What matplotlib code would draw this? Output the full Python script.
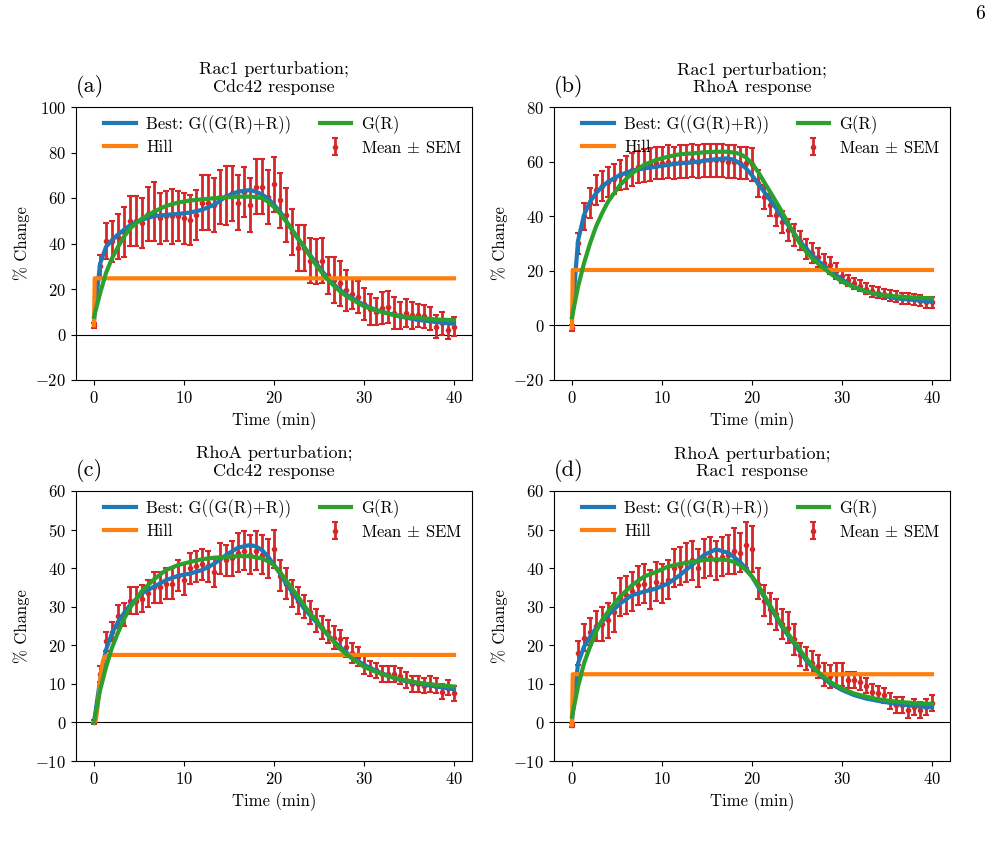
import numpy as np
import matplotlib
matplotlib.use("Agg")
import matplotlib.pyplot as plt

plt.rcParams['font.family'] = ['cmr10', 'DejaVu Serif']
plt.rcParams['mathtext.fontset'] = 'cm'
plt.rcParams['axes.formatter.use_mathtext'] = True
plt.rcParams['font.size'] = 12

# ---- time grids ----
t_data = np.linspace(0, 40, 61)
t_fit = [0, 0.67, 1.33, 2, 2.67, 3.33, 4, 5.33, 6.67, 8, 9.33, 10.67, 12, 13.33,
         14.67, 16, 17.33, 18, 18.67, 19.33, 20, 20.67, 21.33, 22, 22.67, 23.33,
         24, 24.67, 25.33, 26, 26.67, 27.33, 28, 28.67, 30, 31.33, 32.67, 34, 36,
         38, 40]

# ---- panel (a): Rac1 perturbation; Cdc42 response ----
mean_a = [4, 30, 41, 41, 43, 45, 50, 50, 49, 53, 54, 51, 52, 52, 52, 51, 50.5,
          52.5, 58, 58, 57, 60.5, 61, 62, 58, 62.5, 57, 65, 65, 60.5, 66, 59,
          52.5, 45, 38, 38, 32.5, 32, 32.5, 26, 24, 22.5, 19.5, 18, 16.5, 13.5,
          11, 10, 11.5, 12, 9.5, 8.5, 9.5, 8.5, 8.5, 8, 7, 3.5, 5, 2, 3.5]
sem_a = [1, 5, 8, 9, 10, 11, 11, 11, 11, 12, 13, 11, 11, 12, 11, 11, 11, 11, 12,
         12, 12, 12, 13, 12, 12, 11, 12, 12, 12, 12, 12, 12, 12, 10, 10, 10, 10,
         10, 10, 8, 10, 10, 9, 7, 7, 7, 7, 6, 7, 7, 7, 6, 6, 6, 5, 5, 5, 5, 5,
         4, 4]
best_a = [6, 31, 38.5, 41.5, 44, 46, 48, 50.5, 52, 52.6, 53, 53.6, 54.8, 57,
          60.6, 62.8, 63.5, 62.8, 61.5, 59.8, 57, 54, 50, 46, 42, 38.5, 35, 31.4,
          28, 24.8, 22, 19.6, 17.6, 16, 13, 10.8, 9.3, 7.9, 6.4, 5.5, 4.7]
gr_a = [7.8, 18, 27, 33.5, 38.5, 43, 46.6, 51, 54, 56.5, 58, 58.9, 59.4, 59.9,
        60.3, 60.6, 60.6, 60.4, 59.9, 58.4, 56, 53.2, 49.8, 46, 42.3, 38.5, 34.5,
        30.6, 27.2, 24, 21.4, 19, 17, 15.4, 12.4, 10.6, 9.2, 8, 7.3, 6.6, 6.3]
hill_t_a = [0, 0.08, 40]
hill_a = [4, 24.7, 24.7]

# ---- panel (b): Rac1 perturbation; RhoA response ----
mean_b = [-1, 30, 40, 45, 49.5, 51, 52.5, 53.5, 55, 56, 57, 58, 58.5, 59, 59.5,
          59.5, 60, 59.5, 60, 60, 60.5, 60, 60.5, 60.5, 60.5, 60.5, 60, 60, 59.5,
          59.5, 59, 52, 47, 44, 40.5, 38, 35, 33, 31, 28, 26.5, 25, 23, 22, 20,
          18, 16.5, 15.5, 14.5, 13.5, 12.5, 12, 11.5, 11, 10.5, 10, 10, 9.5, 9,
          8.5, 8.5]
sem_b = [1, 4, 5, 5.5, 5.5, 5.5, 5.5, 5.5, 5.5, 6, 6, 6, 6, 6, 6, 6, 6, 6, 6, 6,
         6, 6, 6, 6, 6, 6, 6, 6, 6, 6, 6, 5, 4.5, 4, 4, 4, 4, 4, 3.5, 3.5, 3.5,
         3.5, 3, 3, 3, 2.5, 2, 2, 2, 2, 2, 2, 2, 2, 2, 2, 2, 2, 2, 2, 2]
best_b = [3, 31, 40.4, 45.3, 48.4, 50.8, 52.6, 55.1, 56.7, 57.5, 58.1, 58.8,
          59.4, 59.7, 60.3, 60.9, 61.2, 60.6, 59.4, 57.5, 55, 52, 49, 46, 43,
          39.8, 36.8, 33.7, 30.7, 28.2, 25.8, 23.7, 21.8, 20.3, 16.7, 14.2, 12.4,
          11.2, 9.9, 9.3, 8.7]
gr_b = [3, 14.2, 22.7, 30, 36.2, 41, 45.3, 51.4, 55.7, 58.8, 60.6, 61.8, 62.7,
        63, 63.4, 63.6, 63.6, 63.3, 62.8, 61.5, 59.3, 56.3, 52.6, 49, 45.3, 41.6,
        37.4, 33.7, 30, 27, 24.6, 22.7, 20.9, 19.1, 16, 14, 12.4, 11.4, 10.6,
        10.2, 9.9]
hill_t_b = [0, 0.08, 40]
hill_b = [-1, 20.3, 20.3]

# ---- panel (c): RhoA perturbation; Cdc42 response ----
mean_c = [0, 12.5, 21, 23.5, 27.5, 28, 31.5, 31.5, 32, 33.5, 35, 35, 36, 36, 38,
          37, 40, 40.5, 41, 40.5, 39, 42.5, 42, 42.5, 44, 44.5, 43.5, 44.5, 43.5,
          42.5, 45, 38, 36, 33.5, 31.5, 30, 28.5, 26.5, 24.5, 23.5, 22, 21.5,
          19.5, 18, 17, 15, 14, 13.5, 12.5, 12.5, 12.5, 12, 11, 10, 10, 9.5, 10,
          9.5, 8, 9, 7.5]
sem_c = [0.5, 2, 2.5, 2.5, 3, 3, 3.5, 3.5, 3.5, 3.5, 4, 4, 4, 4, 4, 4, 4, 4, 4,
         4, 4, 4, 4, 4.5, 5, 5, 5, 5, 5, 5, 5, 4, 4, 3.5, 3.5, 3, 3, 3, 3, 3, 3,
         2.5, 2.5, 2.5, 2.5, 2.5, 2, 2, 2, 2, 2, 2, 2, 2, 2, 2, 2, 2, 2, 2, 2]
best_c = [0, 10.9, 18.8, 23.1, 26.1, 28.3, 30.4, 33.5, 35.2, 36.9, 38, 38.6,
          39.5, 41.1, 43.4, 45.3, 46, 45.6, 44.7, 43, 40.8, 38.6, 36, 33.9, 31.7,
          29.6, 27.8, 26.1, 24.4, 22.6, 21, 19.6, 18.2, 17, 14.9, 13.4, 12.1, 11,
          10.1, 9.3, 8.6]
gr_c = [0, 8.3, 14.3, 19.4, 23.3, 26.8, 29.7, 34.1, 37.1, 39.5, 40.8, 41.6, 42.3,
        42.7, 42.9, 43.1, 43.1, 42.8, 42.5, 41.8, 40.8, 39, 36.9, 34.7, 32.6,
        30.4, 28.3, 26.6, 24.4, 22.7, 20.8, 19.1, 17.8, 16.6, 14.4, 13.1, 12,
        11.2, 10.3, 9.7, 9.3]
hill_t_c = [0, 0.2, 0.4, 0.6, 0.8, 1.0, 1.2, 1.5, 2, 40]
hill_c = [0, 0.5, 4, 9, 13.5, 16, 17, 17.4, 17.5, 17.5]

# ---- panel (d): RhoA perturbation; Rac1 response ----
mean_d = [-0.7, 18, 22, 23.5, 25, 25.5, 26.5, 28.5, 32.5, 33, 34, 35.5, 36,
          34.5, 36.5, 36, 37, 40, 40.5, 41.5, 42, 40, 42.5, 43, 42, 43, 43.5,
          44.5, 44, 46, 45, 36, 31.5, 29.5, 28, 25.5, 24.5, 21.5, 17.5, 16.5,
          15.5, 14.5, 12.5, 12, 12.5, 12.5, 11, 11, 10.5, 9.5, 8, 7.5, 7, 5.5,
          4.5, 4.5, 3.2, 4, 3.2, 4, 5]
sem_d = [0.5, 3, 3.5, 3.5, 4, 4.5, 4.5, 5, 5, 5, 5, 5, 5, 5, 5, 5, 5, 5, 5, 5, 5,
         5, 5, 5, 5, 5, 5, 6, 5, 6, 6, 4, 4, 4, 4, 4, 4, 4, 3, 3, 3, 3, 3, 3, 3,
         3, 2, 2, 2, 2, 2, 2, 2, 2, 2, 2, 2, 2, 2, 2, 2]
best_d = [0.5, 15.3, 19.6, 22.2, 24.4, 26.1, 27.8, 30.8, 33, 33.9, 34.7, 36,
          38.2, 40.8, 43.4, 44.9, 44, 42.9, 41.6, 39.9, 37.8, 35.2, 32.6, 30,
          27.4, 24.8, 22.6, 20.5, 18.3, 16.2, 14.4, 12.7, 11.4, 10.1, 8.4, 7.1,
          6.2, 5.6, 4.8, 4.3, 3.9]
gr_d = [1.5, 9.3, 15.3, 19.6, 23.5, 26.5, 28.7, 32.6, 35.6, 37.8, 39, 40.4, 41.1,
        41.6, 42.1, 42.3, 42.1, 41.6, 40.8, 39.5, 37.8, 35.6, 33, 30.4, 27.8,
        25.2, 23, 20.9, 18.8, 16.6, 14.9, 13.1, 11.8, 10.5, 8.8, 7.5, 6.7, 6,
        5.4, 5, 4.8]
hill_t_d = [0, 0.08, 40]
hill_d = [-0.7, 12.5, 12.5]

panels = [
    dict(lab='(a)', title='Rac1 perturbation;\nCdc42 response', mean=mean_a, sem=sem_a,
         best=best_a, gr=gr_a, ht=hill_t_a, hill=hill_a, ylim=(-20, 100),
         yt=[-20, 0, 20, 40, 60, 80, 100]),
    dict(lab='(b)', title='Rac1 perturbation;\nRhoA response', mean=mean_b, sem=sem_b,
         best=best_b, gr=gr_b, ht=hill_t_b, hill=hill_b, ylim=(-20, 80),
         yt=[-20, 0, 20, 40, 60, 80]),
    dict(lab='(c)', title='RhoA perturbation;\nCdc42 response', mean=mean_c, sem=sem_c,
         best=best_c, gr=gr_c, ht=hill_t_c, hill=hill_c, ylim=(-10, 60),
         yt=[-10, 0, 10, 20, 30, 40, 50, 60]),
    dict(lab='(d)', title='RhoA perturbation;\nRac1 response', mean=mean_d, sem=sem_d,
         best=best_d, gr=gr_d, ht=hill_t_d, hill=hill_d, ylim=(-10, 60),
         yt=[-10, 0, 10, 20, 30, 40, 50, 60]),
]

W, H = 992, 856
fig = plt.figure(figsize=(W / 100, H / 100), dpi=100)
boxes = [(76, 107, 472, 380), (554, 107, 950, 380), (76, 491, 472, 761), (554, 491, 950, 761)]

for p, (l, t, r, b) in zip(panels, boxes):
    ax = fig.add_axes([l / W, 1 - b / H, (r - l) / W, (b - t) / H])
    ax.axhline(0, color='black', lw=0.8, zorder=1)
    ax.errorbar(t_data, p['mean'], yerr=p['sem'], fmt='o', color='tab:red',
                ms=3, elinewidth=2, capsize=2.5, capthick=1.5, label=r'Mean $\pm$ SEM',
                zorder=2)
    ax.plot(t_fit, p['best'], color='tab:blue', lw=3, label='Best: G((G(R)+R))', zorder=3)
    ax.plot(p['ht'], p['hill'], color='tab:orange', lw=3, label='Hill', zorder=3)
    ax.plot(t_fit, p['gr'], color='tab:green', lw=3, label='G(R)', zorder=3)
    ax.set_ylim(*p['ylim'])
    ax.set_yticks(p['yt'])
    ax.set_xlim(-2, 42)
    ax.set_xticks([0, 10, 20, 30, 40])
    ax.set_xlabel('Time (min)')
    ax.set_ylabel('% Change')
    ax.set_title(p['title'], fontsize=13, pad=7.5, linespacing=1.1)
    ax.set_title(p['lab'], loc='left', fontsize=16, pad=10.5)
    ax.legend(ncol=2, loc='upper left', bbox_to_anchor=(0.055, 0.995),
              borderaxespad=0, frameon=False, columnspacing=1.7,
              handlelength=1.9, handletextpad=0.6, labelspacing=0.35, fontsize=12)

fig.text(985 / W, 1 - 14 / H, '6', ha='right', va='center', fontsize=14)
fig.savefig('out.png', dpi=100)
